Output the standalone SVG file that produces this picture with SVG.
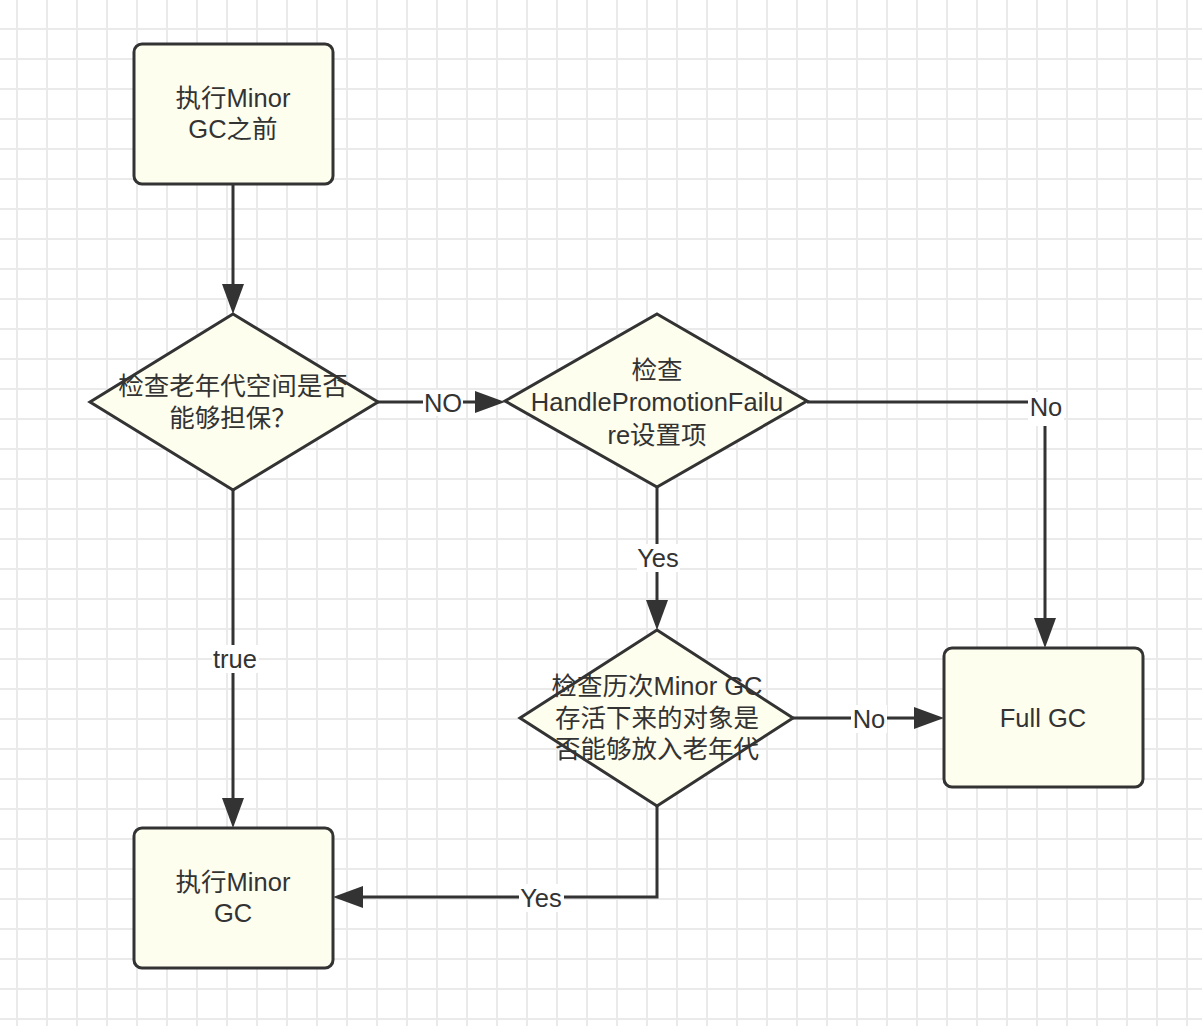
<svg xmlns="http://www.w3.org/2000/svg" width="1202" height="1026" viewBox="0 0 1202 1026">
<style>
.node{fill:#fefeef;stroke:#333;stroke-width:3}
.t{font-family:"Liberation Sans","Noto Sans CJK SC",sans-serif;font-size:25.5px;fill:#333;text-anchor:middle}
.edge{fill:none;stroke:#333;stroke-width:3}
.lbg{fill:#fff}
</style>
<defs>
<pattern id="grid" patternUnits="userSpaceOnUse" x="16" y="28" width="30" height="30">
<path d="M0,1 H30 M1,0 V30" fill="none" stroke="#eaeaea" stroke-width="2"/>
</pattern>
<marker id="arr" markerUnits="userSpaceOnUse" markerWidth="30" markerHeight="22" refX="25" refY="11" orient="auto">
<path d="M0,0 L30,11 L0,22 z" fill="#333"/>
</marker>
</defs>
<rect width="1202" height="1026" fill="#fff"/>
<rect width="1202" height="1026" fill="url(#grid)"/>

<g id="connectors">
<path class="edge" d="M233,184 V309" marker-end="url(#arr)"/>
<path class="edge" d="M378,402 H500" marker-end="url(#arr)"/>
<path class="edge" d="M807,402 H1045 V643" marker-end="url(#arr)"/>
<path class="edge" d="M657,487 V625" marker-end="url(#arr)"/>
<path class="edge" d="M793,718 H939" marker-end="url(#arr)"/>
<path class="edge" d="M657,806 V897 H338" marker-end="url(#arr)"/>
<path class="edge" d="M233,490 V823" marker-end="url(#arr)"/>
<g id="labels">
<rect class="lbg" x="423" y="390" width="40" height="26"/>
<text class="t" x="443" y="412">NO</text>
<rect class="lbg" x="1028" y="392" width="36" height="34"/>
<text class="t" x="1046" y="416">No</text>
<rect class="lbg" x="637" y="544" width="43" height="28"/>
<text class="t" x="658" y="567">Yes</text>
<rect class="lbg" x="212" y="645" width="47" height="28"/>
<text class="t" x="235" y="668">true</text>
<rect class="lbg" x="851" y="705" width="36" height="28"/>
<text class="t" x="869" y="728">No</text>
<rect class="lbg" x="519" y="884" width="45" height="28"/>
<text class="t" x="541" y="907">Yes</text>
</g>
</g>

<g id="start">
<rect class="node" x="134" y="44" width="199" height="140" rx="8"/>
<text class="t" x="233" y="107">执行Minor</text>
<text class="t" x="233" y="138">GC之前</text>
</g>
<g id="check-old">
<polygon class="node" points="233,314 378,402 233,490 90,402"/>
<text class="t" x="233" y="395">检查老年代空间是否</text>
<text class="t" x="233" y="427">能够担保？</text>
</g>
<g id="check-hpf">
<polygon class="node" points="657,314 807,401 657,487 505,401"/>
<text class="t" x="657" y="379">检查</text>
<text class="t" x="657" y="411">HandlePromotionFailu</text>
<text class="t" x="657" y="444">re设置项</text>
</g>
<g id="check-history">
<polygon class="node" points="657,630 793,718 657,806 520,718"/>
<text class="t" x="657" y="695">检查历次Minor GC</text>
<text class="t" x="657" y="727">存活下来的对象是</text>
<text class="t" x="657" y="758">否能够放入老年代</text>
</g>
<g id="full-gc">
<rect class="node" x="944" y="648" width="199" height="139" rx="8"/>
<text class="t" x="1043" y="727">Full GC</text>
</g>
<g id="minor-gc">
<rect class="node" x="134" y="828" width="199" height="140" rx="8"/>
<text class="t" x="233" y="891">执行Minor</text>
<text class="t" x="233" y="922">GC</text>
</g>
</svg>
